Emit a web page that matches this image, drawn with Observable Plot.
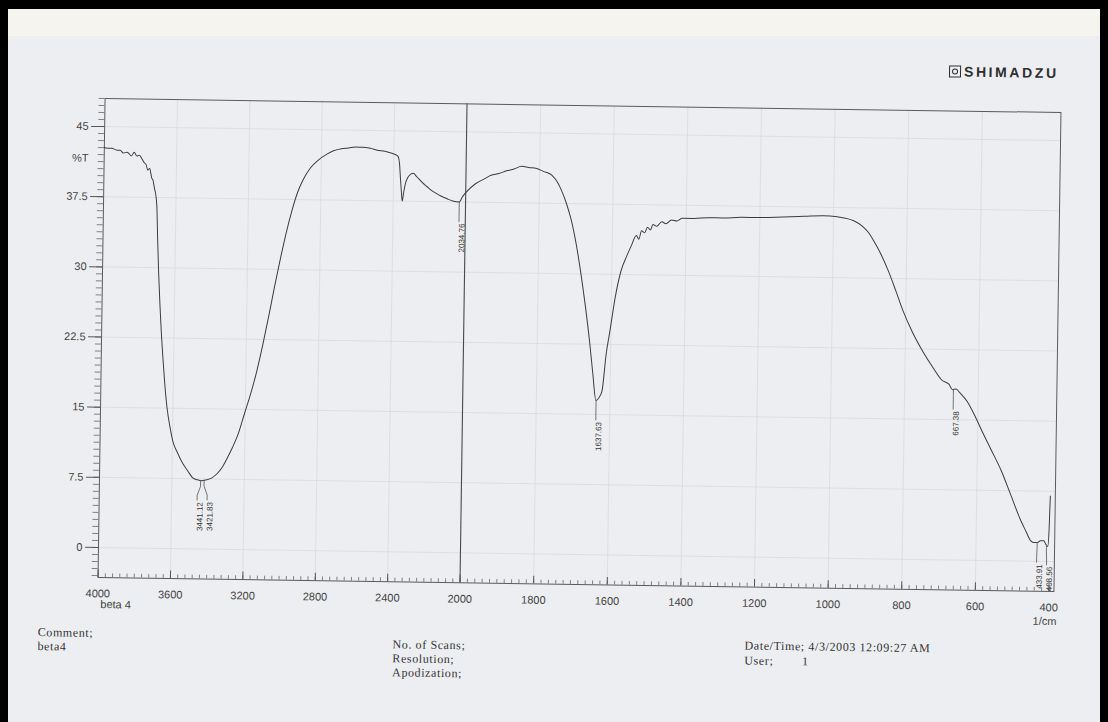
<!DOCTYPE html>
<html>
<head>
<meta charset="utf-8">
<script src="https://cdn.jsdelivr.net/npm/d3@7"></script>
<script src="https://cdn.jsdelivr.net/npm/@observablehq/plot@0.6"></script>
<style>
  html, body { margin: 0; padding: 0; background: #000; }
  #page { position: relative; width: 1108px; height: 722px; overflow: hidden; background: #000; }
  #paper { position: absolute; left: 8px; top: 9px; width: 1092px; height: 713px; background: #edeef2; }
  #band { position: absolute; left: 8px; top: 9px; width: 1092px; height: 27px; background: #f5f4ef; }
  #sheet { position: absolute; left: 0; top: 0; width: 1108px; height: 722px;
           transform: rotate(0.84deg); transform-origin: 580px 345px; }
  #sheet svg { position: absolute; left: 0; top: 0; }
  .note { position: absolute; font-family: "Liberation Serif", "Times New Roman", serif;
          font-size: 12px; letter-spacing: 0.6px; color: #333; line-height: 12px; white-space: pre; }
  #logo { position: absolute; left: 945px; top: 59px; font-family: "Liberation Sans", Arial, sans-serif;
          font-weight: bold; font-size: 14px; letter-spacing: 2.6px; color: #2e2e2e; line-height: 15px; }
  #logo .mark { display: inline-block; width: 10px; height: 10px; border: 1.5px solid #2e2e2e;
                margin-right: 3px; vertical-align: -1px; position: relative; letter-spacing: 0; }
  #logo .mark::after { content: ""; position: absolute; left: 2px; top: 2px; width: 4px; height: 4px;
                       border: 1.2px solid #2e2e2e; border-radius: 50%; }
</style>
</head>
<body>
<div id="page">
  <div id="paper"></div>
  <div id="band"></div>
  <div id="sheet"></div>
</div>
<script>
// FTIR spectrum, sample "beta 4": wavenumber (1/cm) and transmittance (%T)
const wavenumber = [
  4000, 3994, 3960, 3930, 3912, 3895, 3873, 3850, 3835, 3819, 3805, 3791, 3778, 3768, 3758,
  3748, 3736, 3728, 3720, 3712, 3705, 3698, 3690, 3680, 3670, 3660, 3648, 3633, 3615, 3598,
  3570, 3541, 3512, 3485, 3460, 3436, 3410, 3381, 3350, 3322, 3295, 3268, 3235, 3205, 3170,
  3141, 3110, 3080, 3050, 3020, 2990, 2960, 2930, 2900, 2860, 2820, 2770, 2730, 2690, 2650,
  2610, 2575, 2530, 2493, 2450, 2411, 2385, 2375, 2368, 2362, 2356, 2350, 2343, 2335, 2322,
  2305, 2290, 2275, 2260, 2240, 2215, 2190, 2165, 2137, 2100, 2071, 2035, 2016, 2000, 1973,
  1950, 1932, 1910, 1890, 1870, 1849, 1830, 1808, 1790, 1767, 1752, 1740, 1726, 1712, 1698,
  1685, 1671, 1658, 1648, 1638, 1630, 1622, 1612, 1603, 1590, 1575, 1560, 1548, 1535, 1528,
  1521, 1512, 1505, 1497, 1490, 1480, 1466, 1455, 1440, 1425, 1411, 1380, 1340, 1301, 1250,
  1200, 1137, 1080, 1027, 990, 960, 945, 920, 905, 890, 870, 849, 828, 808, 780,
  753, 725, 699, 680, 670, 660, 650, 630, 610, 589, 562, 534, 507, 479, 465,
  452, 443, 433, 425, 416, 410, 405, 402, 400
];
const transmittance = [
  42.8, 42.7, 42.7, 42.5, 42.5, 42.2, 42.3, 41.9, 42.3, 41.9, 42.0, 41.6, 41.2, 41.0, 40.4,
  40.6, 39.6, 39.3, 38.5, 37.8, 36.5, 33.0, 29.5, 26.0, 23.0, 20.5, 17.8, 15.1, 13.0, 11.5,
  10.2, 9.1, 8.3, 7.6, 7.4, 7.3, 7.4, 7.6, 8.1, 8.8, 9.8, 10.9, 12.5, 14.5, 16.8,
  19.0, 21.8, 24.8, 28.0, 31.0, 33.8, 36.2, 38.2, 39.6, 40.9, 41.7, 42.4, 42.8, 43.0, 43.1,
  43.2, 43.2, 43.1, 42.9, 42.8, 42.6, 42.4, 42.2, 41.5, 40.0, 38.6, 37.5, 38.4, 39.3, 40.0,
  40.4, 40.5, 40.2, 39.9, 39.5, 39.1, 38.7, 38.4, 38.1, 37.8, 37.6, 37.5, 38.1, 38.5, 39.5,
  40.0, 40.4, 40.6, 40.9, 41.1, 41.4, 41.3, 41.2, 40.9, 40.5, 39.8, 38.9, 37.5, 35.7, 33.2,
  30.3, 26.7, 22.9, 19.5, 16.5, 16.8, 17.5, 21.5, 23.9, 27.5, 30.4, 32.0, 33.1, 34.2, 33.8,
  34.7, 34.5, 35.1, 34.8, 35.4, 35.2, 35.7, 35.5, 35.9, 35.8, 36.1, 36.1, 36.2, 36.2, 36.3,
  36.3, 36.4, 36.5, 36.6, 36.5, 36.3, 36.1, 35.5, 34.9, 34.0, 32.6, 30.8, 28.7, 26.6, 24.2,
  22.3, 20.6, 19.2, 18.8, 18.2, 18.3, 17.9, 17.0, 15.6, 13.9, 11.8, 9.6, 7.0, 4.3, 3.2,
  2.2, 2.0, 2.0, 2.2, 2.2, 1.8, 1.6, 3.5, 7.0
];

// Peak picks printed on the trace
const peakLabels = ["3441.12", "3421.83", "2034.76", "1637.63", "667.38", "433.91", "408.56"];

// Axis ticks
const xTicks = [4000, 3600, 3200, 2800, 2400, 2000, 1800, 1600, 1400, 1200, 1000, 800, 600, 400];
const yTicks = [0, 7.5, 15, 22.5, 30, 37.5, 45];

// Scale setup: the abscissa changes from 400 to 200 (1/cm) per division at 2000
const xDomain = [4000, 2000, 400];
const xRange = [101, 463, 1052];
const yDomain = [-3.2, 48];

const spectrum = wavenumber.map((w, i) => ({w, t: transmittance[i]}));
const xMinor = d3.range(4000, 2000, -40).concat(d3.range(2000, 399, -20));
const yMinor = d3.range(-3, 48.01, 0.75);

// Transmittance on the trace at a given wavenumber (linear between samples)
function tAt(w) {
  for (let i = 1; i < wavenumber.length; i++) {
    if (wavenumber[i] <= w) {
      const a = wavenumber[i - 1], b = wavenumber[i];
      const f = a === b ? 0 : (a - w) / (a - b);
      return transmittance[i - 1] + f * (transmittance[i] - transmittance[i - 1]);
    }
  }
  return transmittance[transmittance.length - 1];
}

// Spread labels of close peaks so the printed numbers do not overlap
const px = d3.scaleLinear().domain(xDomain).range(xRange);
const peaks = peakLabels.map(s => ({w: +s, label: s, t: tAt(+s)}));
const minGap = 10;
const peakX = peaks.map(p => px(p.w));
for (let i = 1; i < peaks.length; i++) {
  if (peakX[i] - peakX[i - 1] < minGap) {
    const mid = (peakX[i] + peakX[i - 1]) / 2;
    peakX[i - 1] = mid - minGap / 2;
    peakX[i] = mid + minGap / 2;
  }
}
// Each leader joins the trace to the foot of its label
const lead = 2.1; // %T
const leaders = peaks.flatMap((p, i) => {
  const wl = px.invert(peakX[i]);
  return [
    {id: i, w: p.w, t: p.t},
    {id: i, w: p.w, t: p.t - lead * 0.3},
    {id: i, w: wl, t: p.t - lead * 0.75},
    {id: i, w: wl, t: p.t - lead}
  ];
});
const labelRows = peaks.map((p, i) => ({w: px.invert(peakX[i]), t: p.t - lead, label: p.label}));

const ink = "#3b3b3b";
const chart = Plot.plot({
  width: 1108,
  height: 722,
  marginLeft: 101,
  marginRight: 51,
  marginTop: 105,
  marginBottom: 138,
  style: {background: "transparent", fontFamily: "'Liberation Sans', Arial, sans-serif"},
  x: {type: "linear", domain: xDomain, range: xRange, label: null},
  y: {domain: yDomain, label: null},
  marks: [
    // faint chart-paper grid
    Plot.ruleX(xTicks.filter(d => d !== 4000 && d !== 400 && d !== 2000), {stroke: "#d9dade", strokeWidth: 0.8}),
    Plot.ruleY(yTicks, {stroke: "#d9dade", strokeWidth: 0.8}),
    // heavy line at the scale change
    Plot.ruleX([2000], {stroke: "#4a4a4a", strokeWidth: 1.1}),
    Plot.frame({stroke: "#5a5a5a", strokeWidth: 1}),
    // x ticks point into the plot from the bottom edge
    Plot.ruleX(xMinor, {y1: yDomain[0], y2: yDomain[0] + 0.4, stroke: "#666", strokeWidth: 0.8}),
    Plot.ruleX(xTicks, {y1: yDomain[0], y2: yDomain[0] + 0.8, stroke: "#555", strokeWidth: 1}),
    Plot.axisX(xTicks, {tickSize: 0, tickPadding: 12, fontSize: 11, fill: "#444", label: null, tickFormat: d => String(d)}),
    // y ticks point outward on the left
    Plot.ruleY(yMinor, {x1: xDomain[0], x2: xDomain[0] + 33, stroke: "#666", strokeWidth: 0.8}),
    Plot.axisY(yTicks, {tickSize: 13, tickPadding: 3, fontSize: 11, fill: "#444", stroke: "#555", label: null, tickFormat: d => String(d)}),
    Plot.text(["%T"], {x: 4000, y: 41.6, dx: -24, fontSize: 11, fill: "#444"}),
    Plot.text(["beta 4"], {x: 4000, y: yDomain[0], dx: 18, dy: 27, fontSize: 11, fill: "#444"}),
    Plot.text(["1/cm"], {x: 400, y: yDomain[0], dx: -4, dy: 30, fontSize: 11, fill: "#444"}),
    // the spectrum trace
    Plot.line(spectrum, {x: "w", y: "t", stroke: ink, strokeWidth: 1, curve: "monotone-x"}),
    // peak picks, printed reading upward
    Plot.line(leaders, {x: "w", y: "t", z: "id", stroke: "#555", strokeWidth: 0.8}),
    Plot.text(labelRows, {x: "w", y: "t", text: "label", rotate: -90, textAnchor: "end",
                          dx: 3, dy: 2, fontSize: 8, fill: "#333"})
  ]
});
document.getElementById("sheet").appendChild(chart);

// Printout header and footer
const sheet = document.getElementById("sheet");
const logo = document.createElement("div");
logo.id = "logo";
logo.innerHTML = '<span class="mark"></span>SHIMADZU';
sheet.appendChild(logo);

const notes = [
  ["Comment;", 42, 634], ["beta4", 42, 648],
  ["No. of Scans;", 397, 641], ["Resolution;", 397, 655], ["Apodization;", 397, 669],
  ["Date/Time; 4/3/2003 12:09:27 AM", 749, 637], ["User;        1", 749, 652]
];
for (const [txt, left, top] of notes) {
  const d = document.createElement("div");
  d.className = "note";
  d.style.left = left + "px";
  d.style.top = top + "px";
  d.textContent = txt;
  sheet.appendChild(d);
}
</script>
</body>
</html>
